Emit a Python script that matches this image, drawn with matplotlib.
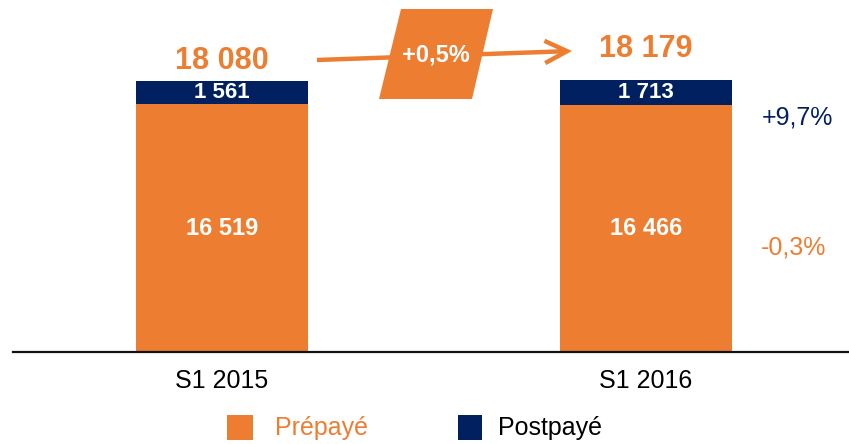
import matplotlib
matplotlib.use("Agg")
import matplotlib.pyplot as plt
from matplotlib.patches import Polygon, FancyArrowPatch, Rectangle
from matplotlib import font_manager

categories = ["S1 2015", "S1 2016"]
prepaye = [16519, 16466]
postpaye = [1561, 1713]
totals = [18080, 18179]
growth_total = "+0,5%"
growth_post = "+9,7%"
growth_pre = "-0,3%"
legend_labels = ["Prépayé", "Postpayé"]

ORANGE = "#ED7D31"
NAVY = "#002060"

names = {f.name for f in font_manager.fontManager.ttflist}
NARROW = "Liberation Sans Narrow" if "Liberation Sans Narrow" in names else "Liberation Sans"
plt.rcParams["font.family"] = ["Liberation Sans", "DejaVu Sans"]

W, H = 849, 444
fig = plt.figure(figsize=(W / 100, H / 100), dpi=100)

def fx(x):
    return x / W

def fy(y):
    return 1 - y / H

# axes: left 13px, right 849px, bottom at 352px, top at 0
ax = fig.add_axes([fx(13), fy(352), fx(849) - fx(13), fy(0) - fy(352)])
xs = [0, 1]
bw = 0.406
ax.bar(xs, prepaye, width=bw, color=ORANGE, zorder=2)
ax.bar(xs, postpaye, width=bw, bottom=prepaye, color=NAVY, zorder=2)
ax.set_xlim(-0.493, 1.479)
ax.set_ylim(0, 18080 * 352 / 271)

for s in ["top", "right", "left"]:
    ax.spines[s].set_visible(False)
ax.spines["bottom"].set_linewidth(1.6)
ax.spines["bottom"].set_color("#111111")
ax.set_yticks([])
ax.set_xticks(xs)
ax.set_xticklabels(categories, fontsize=18, family=NARROW)
ax.tick_params(axis="x", length=0, pad=12)

for i in xs:
    ax.text(i, prepaye[i] / 2, f"{prepaye[i]:,}".replace(",", " "),
            ha="center", va="center", color="white", fontsize=17,
            fontweight="bold", family=NARROW, zorder=3)
    ax.text(i, prepaye[i] + postpaye[i] / 2, f"{postpaye[i]:,}".replace(",", " "),
            ha="center", va="center", color="white", fontsize=16,
            fontweight="bold", family=NARROW, zorder=3)

total_offsets = [20, 31]  # pixels above bar top
for i in xs:
    ax.annotate(f"{totals[i]:,}".replace(",", " "), xy=(i, totals[i]),
                xytext=(0, total_offsets[i] * 72 / 100), textcoords="offset points",
                ha="center", va="center", color=ORANGE, fontsize=22,
                fontweight="bold")

# arrow between totals
arr = FancyArrowPatch((fx(317), fy(60)), (fx(572), fy(51)),
                      transform=fig.transFigure,
                      arrowstyle="->,head_length=16,head_width=8",
                      mutation_scale=1, color=ORANGE, lw=3.2,
                      shrinkA=0, shrinkB=0, joinstyle="miter", capstyle="butt")
fig.patches.append(arr)
poly = Polygon([(fx(379), fy(99)), (fx(401), fy(9)), (fx(493), fy(9)), (fx(472), fy(99))],
               closed=True, transform=fig.transFigure, facecolor=ORANGE,
               edgecolor="none", zorder=5)
fig.patches.append(poly)
fig.text(fx(436), fy(55), growth_total, ha="center", va="center",
         color="white", fontsize=17, fontweight="bold", zorder=6)

fig.text(fx(797), fy(117), growth_post, ha="center", va="center",
         color=NAVY, fontsize=18)
fig.text(fx(794), fy(247), growth_pre, ha="center", va="center",
         color=ORANGE, fontsize=18)

# legend
fig.patches.append(Rectangle((fx(227), fy(440)), fx(253) - fx(227), fy(415) - fy(440),
                             transform=fig.transFigure, facecolor=ORANGE, edgecolor="none"))
fig.text(fx(275), fy(428), legend_labels[0], ha="left", va="center",
         color=ORANGE, fontsize=18)
fig.patches.append(Rectangle((fx(458), fy(440)), fx(482) - fx(458), fy(415) - fy(440),
                             transform=fig.transFigure, facecolor=NAVY, edgecolor="none"))
fig.text(fx(498), fy(428), legend_labels[1], ha="left", va="center",
         color="black", fontsize=18)

fig.savefig("out.png", dpi=100)
